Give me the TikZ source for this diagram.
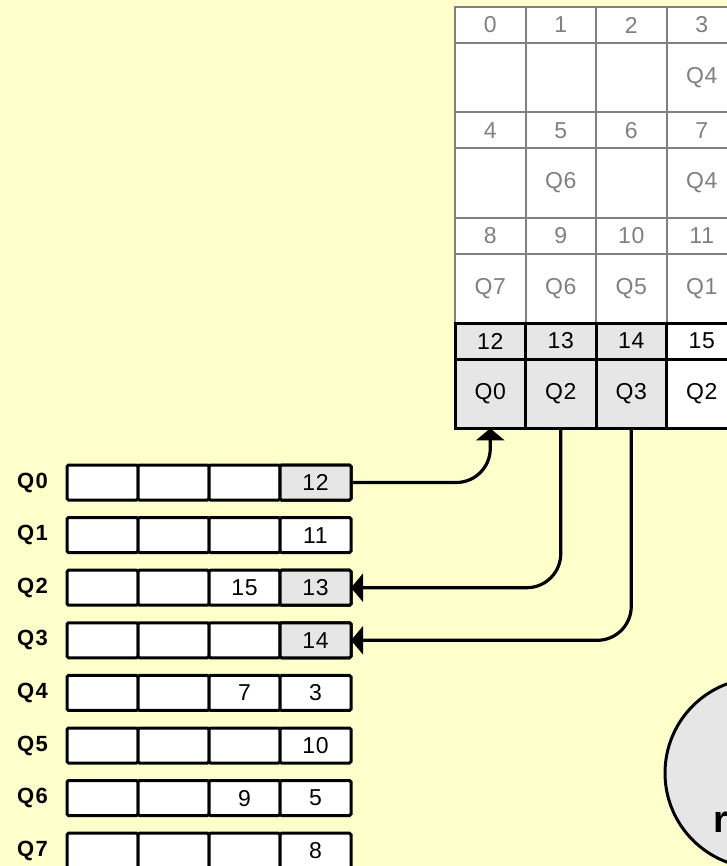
\documentclass[tikz,border=0pt]{standalone}
\usepackage{fontspec}
\setmainfont{Liberation Sans}
\newfontfamily\spfont[LetterSpace=3]{Liberation Sans}
\newfontfamily\lbfont[LetterSpace=6]{Liberation Sans}
\usetikzlibrary{arrows.meta}
\definecolor{bg}{HTML}{FFFFCC}
\definecolor{cellgray}{HTML}{E6E6E6}
\definecolor{linegray}{HTML}{808080}
\tikzset{
  base/.style={inner sep=0pt, outer sep=0pt, anchor=north west, minimum width=70.5pt},
  txt/.style={font=\spfont\fontsize{23}{23}\selectfont},
  gnum/.style={base, txt, draw=linegray, line width=2pt, fill=white, text=linegray, minimum height=36pt},
  gcont/.style={base, txt, draw=linegray, line width=2pt, fill=white, text=linegray, minimum height=69.33pt},
  gtext/.style={txt, text=linegray, inner sep=0pt},
  bnum/.style={gnum, draw=black, line width=3pt, text=black},
  bcont/.style={gcont, draw=black, line width=3pt, text=black},
  qcell/.style={txt, inner sep=0pt, outer sep=0pt, anchor=north west, minimum width=71pt, minimum height=35pt, draw=black, line width=3pt, fill=white, rounded corners=1.5pt},
  qlabel/.style={inner sep=0pt, font=\lbfont\bfseries\fontsize{22}{22}\selectfont},
  conn/.style={draw=black, line width=3.2pt, rounded corners=34pt, -{Triangle[width=28pt,length=12pt]}},
}
\begin{document}
\begin{tikzpicture}[x=1pt,y=-1pt]
\useasboundingbox (0,0) rectangle (727,866);
\fill[bg] (0,0) rectangle (727,866);
\clip (0,0) rectangle (727,866);
% upper grey grid
\foreach \r in {0,1,2} {
  \foreach \c in {0,1,2,3} {
    \pgfmathtruncatemacro\idx{4*\r+\c}
    \node[gnum] (n\idx) at ({455+70.5*\c},{7+105.33*\r}) {\idx};
    \node[gcont] (c\idx) at ({455+70.5*\c},{43+105.33*\r}) {};
  }
}
\node[gtext] (t3) at (c3) {Q4};
\node[gtext] (t5) at (c5) {Q6};
\node[gtext] (t7) at (c7) {Q4};
\node[gtext] (t8) at (c8) {Q7};
\node[gtext] (t9) at (c9) {Q6};
\node[gtext] (t10) at (c10) {Q5};
\node[gtext] (t11) at (c11) {Q1};
% bottom black block
\node[bnum, fill=cellgray] (n12) at (455,323) {12};
\node[bnum, fill=cellgray] (n13) at (525.5,323) {13};
\node[bnum, fill=cellgray] (n14) at (596,323) {14};
\node[bnum, fill=white] (n15) at (666.5,323) {15};
\node[bcont, fill=cellgray] (c12) at (455,359) {Q0};
\node[bcont, fill=cellgray] (c13) at (525.5,359) {Q2};
\node[bcont, fill=cellgray] (c14) at (596,359) {Q3};
\node[bcont, fill=white] (c15) at (666.5,359) {Q2};
% queues
\foreach \r/\a/\b in {0/ /12, 1/ /11, 2/15/13, 3/ /14, 4/7/3, 5/ /10, 6/9/5, 7/ /8} {
  \node[qlabel] (l\r) at (32.5,{482.5+52.6*\r}) {Q\r};
  \node[qcell] (q\r c0) at (67,{465+52.6*\r}) {};
  \node[qcell] (q\r c1) at (138,{465+52.6*\r}) {};
  \node[qcell] (q\r c2) at (209,{465+52.6*\r}) {\a};
  \node[qcell] (q\r c3) at (280,{465+52.6*\r}) {\b};
}
\node[qcell, fill=cellgray] (g0) at (280,465) {12};
\node[qcell, fill=cellgray] (g2) at (280,{465+52.6*2}) {13};
\node[qcell, fill=cellgray] (g3) at (280,{465+52.6*3}) {14};
% connectors
\draw[conn] (g0.east) -| (c12.south);
\draw[conn] (c13.south) |- (g2.east);
\draw[conn] (c14.south) |- (g3.east);
% circle
\node[circle, draw=black, line width=3pt, fill=cellgray, minimum size=190pt, inner sep=0pt] (circ) at (760,773) {};
\node[anchor=base west, inner sep=0pt, font=\bfseries\fontsize{38}{38}\selectfont] (rtxt) at (713,832) {r};
\end{tikzpicture}
\end{document}
